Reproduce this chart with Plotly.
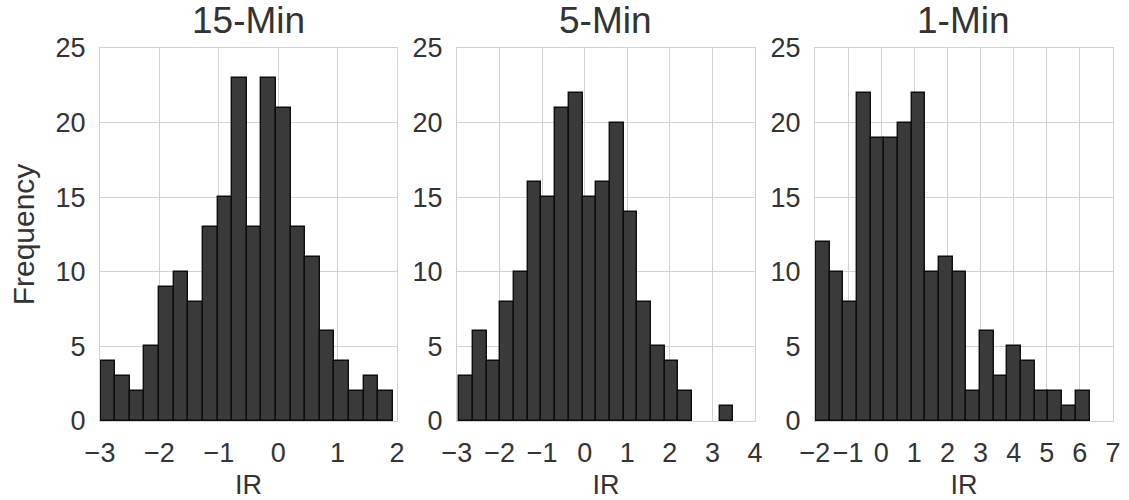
import plotly.graph_objects as go

titles = ["15-Min", "5-Min", "1-Min"]
counts_15 = [4, 3, 2, 5, 9, 10, 8, 13, 15, 23, 13, 23, 21, 13, 11, 6, 4, 2, 3, 2]
counts_5 = [3, 6, 4, 8, 10, 16, 15, 21, 22, 15, 16, 20, 14, 8, 5, 4, 2, 0, 0, 1]
counts_1 = [12, 10, 8, 22, 19, 19, 20, 22, 10, 11, 10, 2, 6, 3, 5, 4, 2, 2, 1, 2]
bin_lo = [-2.99, -2.95, -1.97]
bin_hi = [1.93, 3.49, 6.29]
x_ranges = [[-3, 2], [-3, 4], [-2, 7]]
y_range = [0, 25]

all_counts = [counts_15, counts_5, counts_1]

FONT = "Liberation Sans, Arial, sans-serif"
TXT = "#333333"
GRID = "#d2d2d2"

domains = [[0.0, 0.2932], [0.3524, 0.6466], [0.7058, 1.0]]

fig = go.Figure()
for i, counts in enumerate(all_counts):
    n = len(counts)
    w = (bin_hi[i] - bin_lo[i]) / n
    centers = [bin_lo[i] + w * (k + 0.5) for k in range(n)]
    sfx = "" if i == 0 else str(i + 1)
    fig.add_trace(go.Bar(
        x=centers, y=counts, width=[w] * n,
        marker=dict(color="#3a3a3a",
                    line=dict(color="#0d0d0d", width=[1.4 if c > 0 else 0 for c in counts])),
        xaxis="x" + sfx, yaxis="y" + sfx, showlegend=False,
    ))
    axis_common = dict(
        showgrid=True, gridcolor=GRID, gridwidth=1,
        showline=True, linecolor=GRID, linewidth=1, mirror=True,
        zeroline=False, ticks="outside", ticklen=8, tickcolor="rgba(0,0,0,0)",
        tickfont=dict(family=FONT, size=27, color=TXT), automargin=False,
    )
    fig.layout["xaxis" + sfx] = dict(
        axis_common, domain=domains[i], range=x_ranges[i], dtick=1,
        anchor="y" + sfx,
        title=dict(text="IR", font=dict(family=FONT, size=27, color=TXT), standoff=10),
    )
    ydict = dict(axis_common, domain=[0, 1], range=y_range, dtick=5, anchor="x" + sfx)
    if i == 0:
        ydict["title"] = dict(text="Frequency", font=dict(family=FONT, size=30, color=TXT), standoff=12)
    fig.layout["yaxis" + sfx] = ydict
    fig.add_annotation(
        text=titles[i], xref="x" + sfx + " domain", yref="paper",
        x=0.5, y=1.0, yshift=5, xanchor="center", yanchor="bottom",
        showarrow=False, font=dict(family=FONT, size=37, color=TXT),
    )

fig.update_layout(
    width=1129, height=500,
    margin=dict(l=100, r=16, t=48, b=79),
    paper_bgcolor="white", plot_bgcolor="white",
    bargap=0,
)

fig.write_html("out.html", config={"displayModeBar": False},
               post_script="document.body.style.margin='0';")
